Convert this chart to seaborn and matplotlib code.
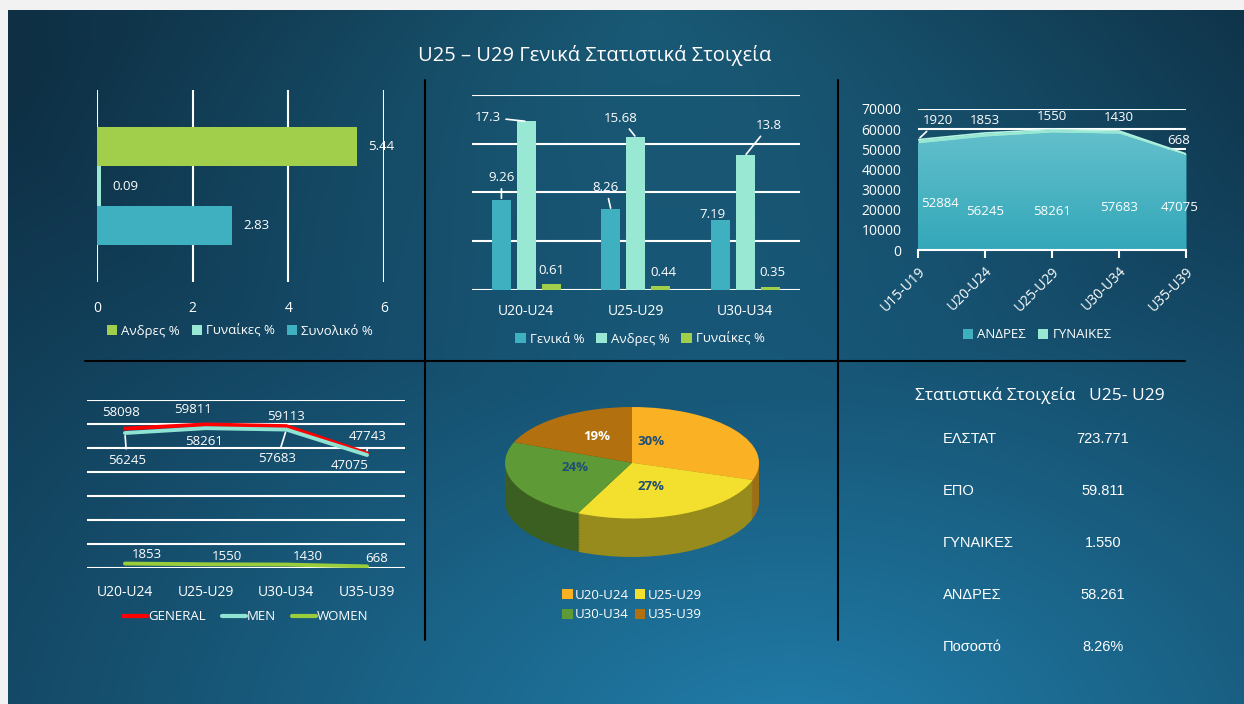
import numpy as np
import pandas as pd
import matplotlib
matplotlib.use('Agg')
import matplotlib.pyplot as plt
from matplotlib.colors import to_rgb
from matplotlib.lines import Line2D
import seaborn as sns

# ---- data ----
share_series = ['Ανδρες %', 'Γυναίκες %', 'Συνολικό %']
share_values = [5.44, 0.09, 2.83]

group_cats = ['U20-U24', 'U25-U29', 'U30-U34']
group_series = ['Γενικά %', 'Ανδρες %', 'Γυναίκες %']
group_general = [9.26, 8.26, 7.19]
group_men = [17.3, 15.68, 13.8]
group_women = [0.61, 0.44, 0.35]

area_cats = ['U15-U19', 'U20-U24', 'U25-U29', 'U30-U34', 'U35-U39']
area_men = [52884, 56245, 58261, 57683, 47075]
area_women = [1920, 1853, 1550, 1430, 668]

line_cats = ['U20-U24', 'U25-U29', 'U30-U34', 'U35-U39']
line_series = ['GENERAL', 'MEN', 'WOMEN']
line_general = [58098, 59811, 59113, 47743]
line_men = [56245, 58261, 57683, 47075]
line_women = [1853, 1550, 1430, 668]

pie_labels = ['U20-U24', 'U25-U29', 'U30-U34', 'U35-U39']
pie_values = [30, 27, 24, 19]

stat_names = ['ΕΛΣΤΑΤ', 'ΕΠΟ', 'ΓΥΝΑΙΚΕΣ', 'ΑΝΔΡΕΣ', 'Ποσοστό']
stat_values = ['723.771', '59.811', '1.550', '58.261', '8.26%']

# ---- style ----
TEAL = '#3fb0c0'
MINT = '#98e8d4'
LIME = '#a2cf4b'
PIE_COLS = ['#fbb124', '#f3e02e', '#5e9a35', '#b2700e']

sns.set_theme(style='white', rc={'axes.facecolor': 'none', 'figure.facecolor': '#f2f2f2'})
plt.rcParams['font.family'] = ['Open Sans', 'DejaVu Sans']

W, H = 1244, 704
fig = plt.figure(figsize=(W / 100, H / 100), dpi=100)


def px_axes(x0, y0, x1, y1):
    return fig.add_axes([x0 / W, 1 - y1 / H, (x1 - x0) / W, (y1 - y0) / H])


def px(x, y):
    return x / W, 1 - y / H


def clean(ax):
    for s in ax.spines.values():
        s.set_visible(False)
    ax.set_xlabel('')
    ax.set_ylabel('')


def box_legend(ax, handles, labels, anchor, ncol, **kw):
    return ax.legend(handles, labels, loc='center', bbox_to_anchor=anchor, ncol=ncol,
                     frameon=False, fontsize=9.5, labelcolor='white', handlelength=0.8,
                     handleheight=0.8, handletextpad=0.3, columnspacing=0.9, **kw)


# ---- background ----
bg = px_axes(8, 10, 1244, 704)
bg.set_zorder(-5)
yy, xx = np.mgrid[10:704:3, 8:1244:3]
d1 = np.sqrt(((xx - 790) / 1300) ** 2 + ((yy - 760) / 850) ** 2)
d2 = np.sqrt(((xx - 650) / 650) ** 2 + ((yy - 20) / 380) ** 2)
dark = np.array(to_rgb('#0e2f44'))
light = np.array(to_rgb('#2180ad'))
mid = np.array(to_rgb('#18536d'))
img = dark + (light - dark) * (np.clip(1 - d1, 0, 1) ** 1.2)[..., None]
img = img + (mid - dark) * (np.clip(1 - d2, 0, 1) ** 1.1)[..., None]
bg.imshow(np.clip(img, 0, 1), aspect='auto', interpolation='bilinear')
bg.axis('off')

# divider lines
for xs, ys in [([425, 425], [80, 640]), ([838, 838], [80, 640]), ([85, 1185], [361, 361])]:
    fig.add_artist(Line2D([x / W for x in xs], [1 - y / H for y in ys],
                          transform=fig.transFigure, color='black', lw=1.5))

fig.text(*px(595, 55), 'U25 – U29 Γενικά Στατιστικά Στοιχεία', color='white',
         fontsize=14.5, ha='center', va='center')

# ---- panel 1: horizontal bars ----
ax1 = px_axes(97, 90, 384, 282)
df1 = pd.DataFrame({'grp': [''] * len(share_series), 'series': share_series, 'value': share_values})
sns.barplot(data=df1, x='value', y='grp', hue='series', hue_order=share_series,
            palette=[LIME, MINT, TEAL], orient='h', width=0.8, saturation=1,
            linewidth=0, edgecolor='none', ax=ax1)
ax1.set_xlim(0, 6)
ax1.set_ylim(0.65, -0.65)
ax1.set_xticks([0, 2, 4, 6])
ax1.set_yticks([])
ax1.grid(axis='x', color='white', lw=1.5)
ax1.set_axisbelow(True)
ax1.tick_params(axis='x', colors='white', length=0, pad=14, labelsize=10)
clean(ax1)
for c in ax1.containers:
    ax1.bar_label(c, fmt='{:g}', padding=8, color='white', fontsize=9.5)
h, l = ax1.get_legend_handles_labels()
box_legend(ax1, h, l, (0.498, -0.255), 3)

# ---- panel 2: grouped vertical bars ----
ax2 = px_axes(471.5, 95, 800, 290)
df2 = pd.DataFrame({
    'cat': group_cats * 3,
    'series': np.repeat(group_series, len(group_cats)),
    'value': group_general + group_men + group_women,
})
sns.barplot(data=df2, x='cat', y='value', hue='series', hue_order=group_series,
            palette=[TEAL, MINT, LIME], width=0.68, gap=0.23, saturation=1,
            linewidth=0, edgecolor='none', ax=ax2)
ax2.set_ylim(0, 20)
ax2.set_xlim(-0.5, 2.5)
ax2.set_yticks([0, 5, 10, 15, 20])
ax2.set_yticklabels([])
ax2.grid(axis='y', color='white', lw=1.5)
ax2.set_axisbelow(True)
ax2.tick_params(axis='x', colors='white', length=0, pad=10, labelsize=10)
ax2.tick_params(axis='y', length=0)
clean(ax2)
off2 = [[(0, -22), (-5, -22), (-8, -5)],
        [(-38, -4), (-15, -19), (24, -30)],
        [(0, -14), (3, -13), (2, -14)]]
lead2 = [[True, True, False], [True, True, True], [False, False, False]]
vals2 = [group_general, group_men, group_women]
for si, cont in enumerate(ax2.containers):
    for ci, bar in enumerate(cont.patches):
        dx, dy = off2[si][ci]
        ap = dict(arrowstyle='-', color='white', lw=1.2, shrinkA=1, shrinkB=1) if lead2[si][ci] else None
        ax2.annotate(f'{vals2[si][ci]:g}', xy=(bar.get_x() + bar.get_width() / 2, bar.get_height()),
                     xytext=(dx, -dy), textcoords='offset pixels', ha='center', va='center',
                     color='white', fontsize=9.5, arrowprops=ap)
h, l = ax2.get_legend_handles_labels()
box_legend(ax2, h, l, ((640 - 471.5) / 328.5, -(339 - 290) / 195), 3)

# ---- panel 3: stacked area ----
ax3 = px_axes(918, 109, 1186, 250)
xa = np.arange(len(area_cats))
polys = ax3.stackplot(xa, area_men, area_women, colors=[TEAL, MINT],
                      labels=['ΑΝΔΡΕΣ', 'ΓΥΝΑΙΚΕΣ'], zorder=2, linewidth=0)
# soft vertical shading over the men area
shade = np.linspace(0, 1, 100)[:, None]
top_c, bot_c = np.array(to_rgb('#63bfcc')), np.array(to_rgb('#33a8b9'))
grad = top_c + (bot_c - top_c) * shade[..., None]
im = ax3.imshow(np.repeat(grad, 2, axis=1), extent=(0, len(area_cats) - 1, 0, max(area_men)),
                aspect='auto', zorder=2.5, interpolation='bilinear')
im.set_clip_path(polys[0].get_paths()[0], ax3.transData)
ax3.plot(xa, np.add(area_men, area_women), color='#b4f3e2', lw=1.2, zorder=3)
ax3.set_xlim(0, len(area_cats) - 1)
ax3.set_ylim(0, 70000)
ax3.set_yticks(range(0, 70001, 10000))
ax3.set_xticks(xa)
ax3.set_xticklabels(area_cats, rotation=45, ha='right', rotation_mode='anchor')
ax3.grid(axis='y', color='white', lw=1.5, zorder=0)
ax3.set_axisbelow(True)
clean(ax3)
ax3.spines['bottom'].set_visible(True)
ax3.spines['bottom'].set_color('white')
ax3.spines['bottom'].set_linewidth(1.5)
ax3.tick_params(axis='x', colors='white', bottom=True, length=6, width=1.5, direction='out',
                labelsize=10, pad=4)
ax3.tick_params(axis='y', colors='white', length=0, labelsize=10, pad=12)
off3w = [(20, -19), (0, -12), (0, -13), (0, -13), (-7, -13)]
off3m = [(22, -4), (0, 4), (0, 4), (0, 0), (-6, 0)]
for i in range(len(area_cats)):
    dx, dy = off3w[i]
    ap = dict(arrowstyle='-', color='white', lw=1.2, shrinkA=1, shrinkB=2) if i == 0 else None
    ax3.annotate(f'{area_women[i]}', xy=(i, area_men[i] + area_women[i]), xytext=(dx, -dy),
                 textcoords='offset pixels', ha='center', va='center', color='white',
                 fontsize=9.5, arrowprops=ap, annotation_clip=False, zorder=5)
    dx, dy = off3m[i]
    ax3.annotate(f'{area_men[i]}', xy=(i, 21000), xytext=(dx, -dy), textcoords='offset pixels',
                 ha='center', va='center', color='white', fontsize=9.5, annotation_clip=False,
                 zorder=5)
h, l = ax3.get_legend_handles_labels()
box_legend(ax3, h, l, ((1037 - 918) / 268, -(335 - 250) / 141), 2)

# ---- panel 4: lines ----
ax4 = px_axes(87, 400, 405, 568)
df4 = pd.DataFrame({
    'pos': list(range(len(line_cats))) * 3,
    'series': np.repeat(line_series, len(line_cats)),
    'value': line_general + line_men + line_women,
})
sns.lineplot(data=df4, x='pos', y='value', hue='series', hue_order=line_series,
             palette=['#ff0000', '#8fe3d3', '#9acd3c'], lw=2.8, ax=ax4)
ax4.set_xlim(-0.47, 3.47)
ax4.set_ylim(0, 70000)
ax4.set_yticks(range(0, 70001, 10000))
ax4.set_yticklabels([])
ax4.set_xticks(range(len(line_cats)))
ax4.set_xticklabels(line_cats)
ax4.grid(axis='y', color='white', lw=1.5)
ax4.set_axisbelow(True)
ax4.tick_params(axis='x', colors='white', length=0, pad=12, labelsize=10)
ax4.tick_params(axis='y', length=0)
clean(ax4)
off4 = {'GENERAL': [(-4, -16), (-13, -15), (0, -10), (0, -17)],
        'MEN': [(2, 27), (-2, 13), (-9, 29), (-17, 10)],
        'WOMEN': [(22, -9), (21, -8), (21, -8), (10, -8)]}
lead4 = {'GENERAL': [False, False, False, True],
         'MEN': [True, False, True, False],
         'WOMEN': [False] * 4}
for name, vals in zip(line_series, [line_general, line_men, line_women]):
    for i, v in enumerate(vals):
        dx, dy = off4[name][i]
        ap = dict(arrowstyle='-', color='white', lw=1.2, shrinkA=1, shrinkB=2) if lead4[name][i] else None
        ax4.annotate(f'{v}', xy=(i, v), xytext=(dx, -dy), textcoords='offset pixels',
                     ha='center', va='center', color='white', fontsize=9.5, arrowprops=ap)
h, l = ax4.get_legend_handles_labels()
ax4.legend(h, l, loc='center', bbox_to_anchor=((246 - 87) / 318, -(617 - 568) / 168), ncol=3,
           frameon=False, fontsize=9.5, labelcolor='white', handlelength=1.8,
           handletextpad=0.1, columnspacing=1.2)
for lh in ax4.get_legend().get_lines():
    lh.set_linewidth(3)

# ---- panel 5: pseudo 3D pie ----
depth = 0.69
ax5 = px_axes(503, 405, 761, 559)
side_cols = [tuple(np.array(to_rgb(c)) * 0.62) for c in PIE_COLS]
nlay = 24
for k in range(nlay, 0, -1):
    ax5.pie(pie_values, colors=side_cols, startangle=90, counterclock=False,
            center=(0, -depth * k / nlay), radius=1, wedgeprops=dict(linewidth=0))
wedges, texts, autotexts = ax5.pie(pie_values, colors=PIE_COLS, startangle=90, counterclock=False,
                                   center=(0, 0), radius=1, autopct='%1.0f%%',
                                   wedgeprops=dict(linewidth=0))
pct_pos = [(0.15, 0.38), (0.15, -0.42), (-0.45, -0.09), (-0.28, 0.47)]
pct_col = ['#1d4f78', '#1d4f78', '#1d4f78', 'white']
for t, p, c in zip(autotexts, pct_pos, pct_col):
    t.set_position(p)
    t.set_color(c)
    t.set_fontsize(9.5)
    t.set_fontweight('bold')
ax5.set_aspect('auto')
ax5.set_xlim(-1.016, 1.016)
ax5.set_ylim(-1 - depth - 0.036, 1.036)
ax5.axis('off')
order = [0, 2, 1, 3]  # row-wise legend layout
ax5.legend([wedges[i] for i in order], [pie_labels[i] for i in order], loc='center',
           bbox_to_anchor=(0.5, -(605 - 559) / 154), ncol=2,
           frameon=False, fontsize=9.5, labelcolor='white', handlelength=0.8, handleheight=0.8,
           handletextpad=0.2, columnspacing=0.4, labelspacing=0.5)

# ---- panel 6: text table ----
fig.text(*px(1040, 396), 'Στατιστικά Στοιχεία   U25- U29', color='white', fontsize=12.5,
         ha='center', va='center')
for i, (n, v) in enumerate(zip(stat_names, stat_values)):
    y = 439 + i * 52
    fig.text(*px(943, y), n, color='white', fontsize=10.5, family='Liberation Sans',
             ha='left', va='center')
    fig.text(*px(1103, y), v, color='white', fontsize=10.5, family='Liberation Sans',
             ha='center', va='center')

fig.savefig('out.png', dpi=100, facecolor=fig.get_facecolor())
